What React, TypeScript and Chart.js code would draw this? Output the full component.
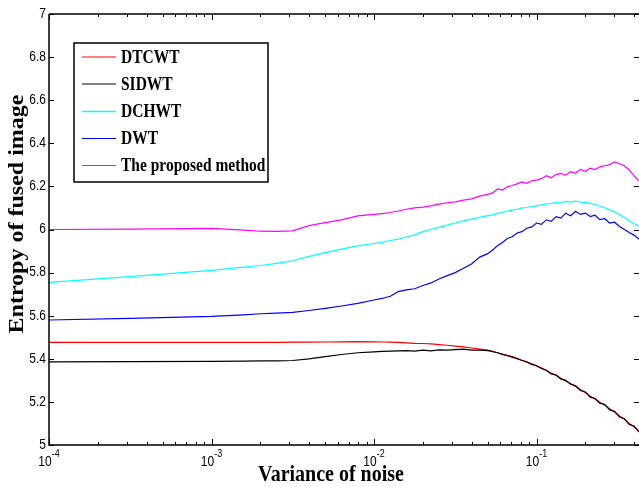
import React, { useEffect, useRef } from "react";
import { Chart, registerables } from "chart.js";
Chart.register(...registerables);

// x: variance of noise
const noiseVariance = [0.0001, 0.000316, 0.001, 0.00158, 0.002, 0.00251, 0.00316, 0.00398, 0.00501, 0.00631, 0.00794, 0.01, 0.0112, 0.0126, 0.0141, 0.0158, 0.0178, 0.02, 0.0224, 0.0251, 0.0282, 0.0316, 0.0355, 0.0398, 0.0447, 0.0501, 0.0537, 0.0575, 0.0617, 0.0661, 0.0708, 0.0759, 0.0813, 0.0871, 0.0933, 0.1, 0.107, 0.115, 0.123, 0.132, 0.141, 0.151, 0.162, 0.174, 0.186, 0.2, 0.214, 0.229, 0.245, 0.263, 0.282, 0.302, 0.324, 0.347, 0.372, 0.398, 0.427];

const dtcwt = [5.476, 5.476, 5.476, 5.476, 5.476, 5.476, 5.477, 5.477, 5.478, 5.479, 5.48, 5.479, 5.478, 5.477, 5.476, 5.474, 5.472, 5.471, 5.469, 5.466, 5.463, 5.459, 5.455, 5.45, 5.445, 5.44, 5.435, 5.428, 5.422, 5.416, 5.41, 5.402, 5.393, 5.386, 5.377, 5.368, 5.358, 5.346, 5.334, 5.323, 5.31, 5.297, 5.285, 5.272, 5.257, 5.243, 5.226, 5.214, 5.198, 5.185, 5.168, 5.153, 5.135, 5.12, 5.1, 5.085, 5.065];

const sidwt = [5.386, 5.387, 5.388, 5.389, 5.39, 5.39, 5.392, 5.4, 5.41, 5.42, 5.428, 5.432, 5.434, 5.436, 5.437, 5.438, 5.436, 5.44, 5.437, 5.441, 5.44, 5.443, 5.445, 5.44, 5.44, 5.438, 5.433, 5.428, 5.42, 5.414, 5.408, 5.4, 5.392, 5.385, 5.374, 5.368, 5.355, 5.347, 5.33, 5.325, 5.307, 5.3, 5.282, 5.275, 5.253, 5.246, 5.222, 5.216, 5.194, 5.188, 5.162, 5.156, 5.13, 5.122, 5.095, 5.088, 5.06];

const dchwt = [5.755, 5.781, 5.81, 5.825, 5.833, 5.843, 5.855, 5.875, 5.893, 5.909, 5.924, 5.935, 5.94, 5.949, 5.955, 5.965, 5.975, 5.99, 6.0, 6.01, 6.02, 6.03, 6.04, 6.048, 6.056, 6.064, 6.068, 6.075, 6.079, 6.086, 6.09, 6.094, 6.1, 6.102, 6.108, 6.11, 6.114, 6.119, 6.12, 6.126, 6.123, 6.13, 6.127, 6.132, 6.127, 6.126, 6.121, 6.116, 6.108, 6.101, 6.091, 6.082, 6.07, 6.056, 6.041, 6.028, 6.015];

const dwt = [5.58, 5.588, 5.597, 5.604, 5.609, 5.612, 5.615, 5.624, 5.634, 5.645, 5.657, 5.673, 5.68, 5.69, 5.712, 5.72, 5.725, 5.74, 5.752, 5.77, 5.786, 5.8, 5.82, 5.84, 5.872, 5.888, 5.905, 5.925, 5.94, 5.958, 5.966, 5.984, 5.99, 6.006, 6.012, 6.03, 6.024, 6.045, 6.038, 6.06, 6.053, 6.076, 6.064, 6.085, 6.07, 6.076, 6.06, 6.066, 6.046, 6.05, 6.03, 6.034, 6.014, 6.0, 5.986, 5.974, 5.955];

const proposed = [6.0, 6.002, 6.005, 5.997, 5.992, 5.991, 5.994, 6.018, 6.032, 6.045, 6.063, 6.07, 6.074, 6.079, 6.086, 6.094, 6.1, 6.104, 6.11, 6.118, 6.124, 6.128, 6.136, 6.142, 6.155, 6.163, 6.17, 6.188, 6.183, 6.198, 6.204, 6.212, 6.221, 6.214, 6.226, 6.229, 6.236, 6.25, 6.24, 6.255, 6.26, 6.252, 6.268, 6.262, 6.279, 6.27, 6.285, 6.278, 6.291, 6.296, 6.301, 6.314, 6.305, 6.296, 6.276, 6.25, 6.226];

const seriesNames = ["DTCWT", "SIDWT", "DCHWT", "DWT", "The proposed method"];
const seriesColors = ["#ff0000", "#000000", "#00ffff", "#0000ff", "#ff00ff"];

const yTickValues = [5, 5.2, 5.4, 5.6, 5.8, 6, 6.2, 6.4, 6.6, 6.8, 7];
const yTickLabels = ["5", "5.2", "5.4", "5.6", "5.8", "6", "6.2", "6.4", "6.6", "6.8", "7"];
const xTickValues = [0.0001, 0.001, 0.01, 0.1];
const xTickExponents = ["-4", "-3", "-2", "-1"];

const xTitle = "Variance of noise";
const yTitle = "Entropy of fused image";

const SY = 1.15;
const SANS = '"Liberation Sans", Arial, Helvetica, sans-serif';
const SERIF = '"Liberation Serif", "Times New Roman", serif';

function txt(ctx: CanvasRenderingContext2D, s: string, x: number, y: number, font: string, align: CanvasTextAlign, base: CanvasTextBaseline, sy = SY) {
  ctx.save();
  ctx.translate(x, y);
  ctx.scale(1, sy);
  ctx.font = font;
  ctx.textAlign = align;
  ctx.textBaseline = base;
  ctx.fillStyle = "#000";
  ctx.fillText(s, 0, 0);
  ctx.restore();
}

const decorPlugin = {
  id: "decor",
  afterDraw(chart: any) {
    const ctx: CanvasRenderingContext2D = chart.ctx;
    const xs = chart.scales.x;
    const ys = chart.scales.y;
    const a = chart.chartArea;
    ctx.save();
    ctx.strokeStyle = "#000";
    ctx.lineWidth = 1.5;
    ctx.beginPath();
    ctx.moveTo(a.left, a.top);
    ctx.lineTo(a.right + 2, a.top);
    ctx.moveTo(a.left, a.top);
    ctx.lineTo(a.left, a.bottom);
    ctx.lineTo(a.right + 2, a.bottom);
    ctx.stroke();

    // y ticks (left and right, inward)
    ctx.lineWidth = 1;
    ctx.beginPath();
    yTickValues.forEach((v) => {
      const py = Math.round(ys.getPixelForValue(v)) + 0.5;
      ctx.moveTo(a.left, py);
      ctx.lineTo(a.left + 5, py);
      ctx.moveTo(a.right, py);
      ctx.lineTo(a.right - 5, py);
    });
    // x ticks major + minor, bottom and top
    for (let d = -4; d <= -1; d++) {
      for (let m = 1; m <= 9; m++) {
        const v = m * Math.pow(10, d);
        if (v > xs.max) continue;
        const px = Math.round(xs.getPixelForValue(v)) + 0.5;
        const len = m === 1 ? 6 : 3;
        ctx.moveTo(px, a.bottom);
        ctx.lineTo(px, a.bottom - len);
        ctx.moveTo(px, a.top);
        ctx.lineTo(px, a.top + len);
      }
    }
    ctx.stroke();

    // y tick labels
    yTickValues.forEach((v, i) => {
      const py = ys.getPixelForValue(v);
      txt(ctx, yTickLabels[i], a.left - 3, py, "12px " + SANS, "right", "middle");
    });
    // x tick labels 10^n
    xTickValues.forEach((v, i) => {
      const px = xs.getPixelForValue(v);
      ctx.font = "12px " + SANS;
      const w1 = ctx.measureText("10").width;
      ctx.font = "9px " + SANS;
      const w2 = ctx.measureText(xTickExponents[i]).width;
      const start = px - (w1 + w2) / 2;
      txt(ctx, "10", start, a.bottom + 17, "12px " + SANS, "left", "middle");
      txt(ctx, xTickExponents[i], start + w1, a.bottom + 9, "9px " + SANS, "left", "middle");
    });

    // axis titles
    txt(ctx, xTitle, 331, a.bottom + 30, "bold 20px " + SERIF, "center", "middle");
    ctx.save();
    ctx.translate(23, 214);
    ctx.rotate(-Math.PI / 2);
    ctx.scale(1.2, 1);
    ctx.font = "bold 20px " + SERIF;
    ctx.textAlign = "center";
    ctx.textBaseline = "alphabetic";
    ctx.fillStyle = "#000";
    ctx.fillText(yTitle, 0, 0);
    ctx.restore();

    // legend
    const lx = 74, ly = 43, lw = 194, lh = 139;
    ctx.fillStyle = "#fff";
    ctx.fillRect(lx, ly, lw, lh);
    ctx.lineWidth = 1.5;
    ctx.strokeStyle = "#000";
    ctx.strokeRect(lx, ly, lw, lh);
    const rows = [57, 84, 111.5, 138.5, 165.5];
    seriesNames.forEach((name, i) => {
      ctx.strokeStyle = seriesColors[i];
      ctx.lineWidth = i === 2 ? 1.6 : 1.2;
      ctx.beginPath();
      ctx.moveTo(82, rows[i]);
      ctx.lineTo(116, rows[i]);
      ctx.stroke();
      txt(ctx, name, 121, rows[i] + 1, "bold 15.5px " + SERIF, "left", "middle", 1.2);
    });
    ctx.restore();
  },
};

export default function App() {
  const ref = useRef<HTMLCanvasElement | null>(null);
  useEffect(() => {
    if (!ref.current) return;
    const all = [dtcwt, sidwt, dchwt, dwt, proposed];
    const orders = [1, 0, 0, 0, 0];
    const chart = new Chart(ref.current, {
      type: "line",
      data: {
        datasets: all.map((ys, i) => ({
          label: seriesNames[i],
          data: noiseVariance.map((x, j) => ({ x, y: ys[j] })),
          borderColor: seriesColors[i],
          backgroundColor: seriesColors[i],
          borderWidth: 1.2,
          pointRadius: 0,
          tension: 0,
          fill: false,
          order: orders[i],
        })),
      },
      options: {
        responsive: false,
        animation: false,
        layout: { padding: { left: 49, top: 14, right: 0, bottom: 42 } },
        plugins: { legend: { display: false }, tooltip: { enabled: false } },
        scales: {
          x: { type: "logarithmic", min: 0.0001, max: 0.427, display: false },
          y: { type: "linear", min: 5, max: 7, display: false },
        },
      },
      plugins: [decorPlugin],
    });
    return () => chart.destroy();
  }, []);
  return (
    <div style={{ position: "absolute", left: 0, top: 0, width: 639, height: 487, background: "#fff" }}>
      <canvas ref={ref} width={639} height={487} style={{ display: "block" }} />
    </div>
  );
}
